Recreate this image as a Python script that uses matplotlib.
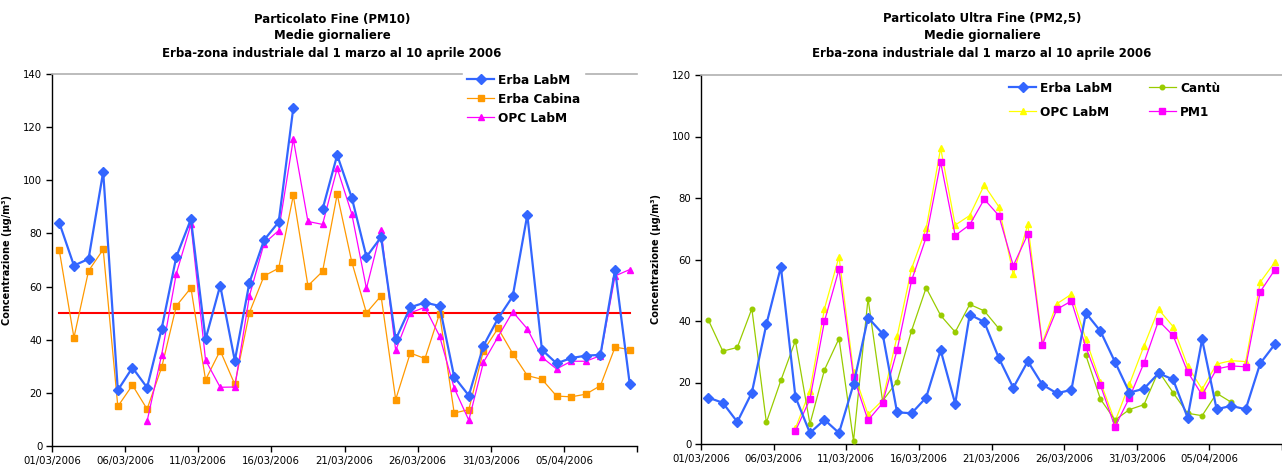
import numpy as np
import pandas as pd
import matplotlib
matplotlib.use("Agg")
import matplotlib.pyplot as plt

nan = np.nan

days = pd.date_range("2006-03-01", periods=40, freq="D")
tick_labels = [d.strftime("%d/%m/%Y") for d in days[::5]] + [""]

# PM10 (left)
pm10_erba_labm = [84.0, 67.9, 70.4, 103.2, 21.0, 29.5, 22.0, 44.2, 71.2, 85.4,
                  40.2, 60.4, 32.1, 61.5, 77.5, 84.3, 127.3, nan, 89.1, 109.5,
                  93.4, 71.2, 78.6, 40.1, 52.2, 54.0, 52.7, 26.0, 19.0, 37.7,
                  48.0, 56.3, 87.0, 36.2, 31.1, 33.1, 34.0, 34.3, 66.4, 23.5]
pm10_erba_cabina = [73.6, 40.8, 65.9, 74.0, 14.9, 22.9, 13.9, 29.6, 52.7, 59.5,
                    24.9, 35.9, 23.2, 50.2, 64.0, 66.9, 94.3, 60.3, 65.7, 94.7,
                    69.2, 50.1, 56.5, 17.5, 35.0, 32.9, 49.8, 12.4, 13.7, 35.9,
                    44.3, 34.8, 26.5, 25.1, 18.8, 18.5, 19.5, 22.7, 37.2, 36.3]
pm10_opc_labm = [nan, nan, nan, nan, nan, nan, 9.3, 34.4, 64.9, 83.4,
                 32.3, 22.1, 22.2, 56.5, 76.2, 81.1, 115.5, 84.5, 83.4, 104.5,
                 87.3, 59.3, 81.2, 36.0, 50.1, 52.2, 41.4, 21.8, 9.7, 31.5,
                 41.1, 50.5, 44.1, 33.4, 29.0, 31.9, 31.9, 34.0, 64.0, 66.4]
pm10_limit = 50

# PM2,5 (right)
pm25_erba_labm = [15.1, 13.4, 7.2, 16.7, 38.9, 57.6, 15.3, 3.6, 7.9, 3.6,
                  19.4, 41.1, 35.9, 10.3, 10.0, 15.1, 30.5, 13.1, 42.1, 39.7,
                  28.0, 18.3, 26.9, 19.3, 16.5, 17.6, 42.6, 36.7, 26.7, 16.7,
                  18.0, 23.0, 21.0, 8.6, 34.0, 11.3, 12.4, 11.3, 26.2, 32.4]
pm25_cantu = [40.4, 30.2, 31.4, 44.0, 7.0, 20.7, 33.6, 6.5, 24.1, 34.3,
              1.0, 47.3, 14.0, 20.3, 36.9, 50.8, 41.8, 36.4, 45.4, 43.3,
              37.6, nan, nan, nan, nan, nan, 28.8, 14.6, 7.8, 11.2,
              12.8, 23.7, 16.7, 10.0, 9.2, 16.5, 13.6, nan, nan, nan]
pm25_opc_labm = [nan, nan, nan, nan, nan, nan, 5.1, 17.3, 44.0, 60.9,
                 23.5, 9.6, 14.2, 35.0, 57.1, 70.1, 96.2, 71.2, 74.3, 84.2,
                 77.2, 55.2, 71.4, 32.9, 45.6, 48.7, 34.0, 20.2, 7.3, 19.5,
                 31.9, 43.8, 38.2, 25.4, 17.8, 26.0, 27.1, 26.8, 52.6, 59.1]
pm25_pm1 = [nan, nan, nan, nan, nan, nan, 4.2, 14.6, 39.9, 56.8,
            21.8, 7.7, 13.3, 30.5, 53.2, 67.2, 91.6, 67.8, 71.3, 79.6,
            74.3, 58.0, 68.2, 32.3, 43.8, 46.5, 31.4, 19.1, 5.6, 15.1,
            26.4, 40.1, 35.3, 23.5, 15.9, 24.4, 25.4, 25.1, 49.5, 56.6]

BLUE = "#3366FF"
ORANGE = "#FF9900"
MAGENTA = "#FF00FF"
YELLOW = "#FFFF00"
GREEN = "#99CC00"

plt.rcParams["font.family"] = ["DejaVu Sans"]

x = np.arange(len(days)) + 0.5

fig = plt.figure(figsize=(12.82, 4.66), dpi=100)
ax1 = fig.add_axes([52 / 1282, 20 / 466, 585 / 1282, 372 / 466])
ax2 = fig.add_axes([701 / 1282, 22 / 466, 581 / 1282, 369 / 466])


def style_axis(ax, ymax):
    ax.set_xlim(0, len(days))
    ax.set_ylim(0, ymax)
    ax.set_yticks(np.arange(0, ymax + 1, 20))
    ax.set_xticks(np.arange(0, len(days) + 1, 5))
    ax.set_xticklabels(tick_labels)
    ax.tick_params(axis="both", direction="out", length=4, width=1,
                   labelsize=7.3, colors="black", pad=3)
    ax.spines["right"].set_visible(False)
    ax.spines["top"].set_color("#B0B0B0")
    ax.spines["top"].set_linewidth(1.2)
    for s in ("left", "bottom"):
        ax.spines[s].set_linewidth(1)
    ax.set_ylabel("Concentrazione (µg/m³)", fontsize=7, fontweight="bold",
                  labelpad=8)


def white_legend(leg):
    frame = leg.get_frame()
    frame.set_edgecolor("white")
    frame.set_facecolor("white")
    frame.set_alpha(1)
    leg.set_zorder(10)


# left panel
ax1.plot(x, pm10_erba_labm, color=BLUE, lw=1.6, marker="D", ms=5,
         label="Erba LabM", zorder=5)
ax1.plot(x, pm10_erba_cabina, color=ORANGE, lw=0.9, marker="s", ms=3.8,
         label="Erba Cabina", zorder=3)
ax1.plot(x, pm10_opc_labm, color=MAGENTA, lw=0.9, marker="^", ms=4.3,
         label="OPC LabM", zorder=4)
ax1.plot(x, [pm10_limit] * len(days), color="red", lw=1.5, zorder=2)
style_axis(ax1, 140)
leg1 = ax1.legend(loc="upper left", bbox_to_anchor=(463 / 1282, 1 - 70 / 466),
                  bbox_transform=fig.transFigure, frameon=True,
                  prop={"weight": "bold", "size": 8.7}, handlelength=2.3,
                  handletextpad=0.3, labelspacing=0.5, borderpad=0.3,
                  fancybox=False, borderaxespad=0)
white_legend(leg1)

# right panel
ax2.plot(x, pm25_erba_labm, color=BLUE, lw=1.6, marker="D", ms=5,
         label="Erba LabM", zorder=5)
ax2.plot(x, pm25_opc_labm, color=YELLOW, lw=0.9, marker="^", ms=4.3,
         label="OPC LabM", zorder=3)
ax2.plot(x, pm25_cantu, color=GREEN, lw=0.9, marker="o", ms=3.3,
         label="Cantù", zorder=4)
ax2.plot(x, pm25_pm1, color=MAGENTA, lw=0.9, marker="s", ms=3.8,
         label="PM1", zorder=4)
style_axis(ax2, 120)
leg2 = ax2.legend(loc="upper left", bbox_to_anchor=(1005 / 1282, 1 - 78 / 466),
                  bbox_transform=fig.transFigure, ncol=2, frameon=True,
                  prop={"weight": "bold", "size": 8.7}, handlelength=2.3,
                  handletextpad=0.3, labelspacing=0.9, columnspacing=3.0,
                  borderpad=0.3, fancybox=False, borderaxespad=0)
white_legend(leg2)

title_lines = {
    332: ["Particolato Fine (PM10)", "Medie giornaliere",
          "Erba-zona industriale dal 1 marzo al 10 aprile 2006"],
    982: ["Particolato Ultra Fine (PM2,5)", "Medie giornaliere",
          "Erba-zona industriale dal 1 marzo al 10 aprile 2006"],
}
for cx, lines in title_lines.items():
    for i, line in enumerate(lines):
        fig.text(cx / 1282, 1 - (19 + 17 * i) / 466, line, ha="center",
                 va="center", fontsize=8.5, fontweight="bold")

fig.savefig("out.png", dpi=100)
